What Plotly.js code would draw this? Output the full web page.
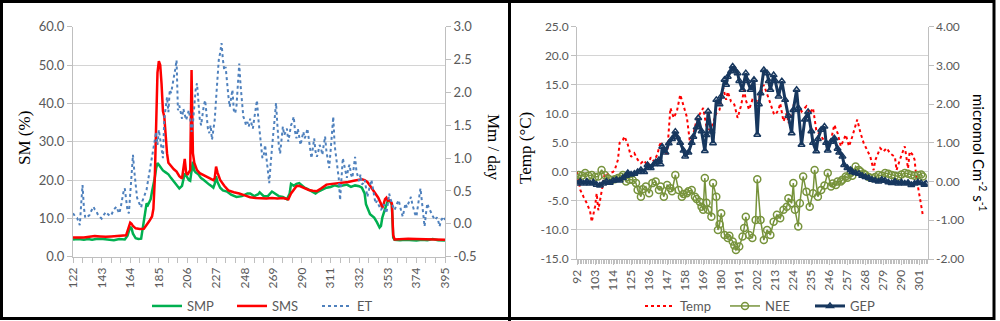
<!DOCTYPE html>
<html><head><meta charset="utf-8">
<script src="https://cdn.plot.ly/plotly-3.0.1.min.js"></script>
<style>html,body{margin:0;padding:0;background:#fff;width:1000px;height:321px;overflow:hidden;} #chart{width:1000px;height:321px;overflow:hidden;position:relative;}</style>
</head><body><div id="chart"></div>
<script>
// ---------- Left chart data (day of year, values) ----------
const smpPoints = [[122,4.5],[126,4.6],[130,4.4],[133,4.6],[136,4.4],[140,4.7],[144,4.6],[148,4.5],[152,4.3],[156,4.6],[160,4.5],[162,5.5],[163,7.0],[164,7.8],[165,7.4],[166,6.0],[168,4.8],[170,4.6],[172,4.7],[173,7.0],[174,10.0],[175,12.5],[176,13.9],[177,13.5],[178,14.5],[179,15.0],[180,17.0],[181,18.5],[182,20.5],[183,23.0],[184,24.4],[185,24.0],[186,23.5],[187,22.8],[188,22.5],[190,22.0],[192,21.5],[194,20.5],[196,19.5],[198,18.5],[200,17.8],[202,18.5],[204,21.7],[205,21.2],[206,20.5],[207,20.0],[208,19.8],[209,22.0],[210,24.8],[211,22.5],[212,22.0],[214,21.5],[216,20.5],[218,20.0],[220,19.3],[222,18.8],[224,18.3],[225,18.0],[226,19.0],[227,21.0],[228,19.5],[230,18.0],[232,17.3],[235,17.0],[238,16.2],[242,15.6],[246,15.8],[250,16.5],[252,16.5],[255,15.8],[258,16.3],[259,16.8],[262,15.8],[265,15.8],[268,17.0],[270,16.5],[273,15.8],[276,15.6],[279,15.0],[281,16.5],[282,19.0],[284,18.5],[286,19.0],[288,19.2],[290,18.5],[292,18.0],[294,17.7],[297,17.0],[300,16.5],[302,17.0],[305,17.5],[308,18.0],[311,18.2],[314,18.6],[317,18.3],[320,18.5],[323,18.8],[326,18.2],[329,18.6],[332,18.4],[334,18.0],[336,16.5],[337,13.7],[340,11.1],[343,10.2],[345,9.0],[347,7.6],[348,8.0],[349,10.2],[351,12.5],[352,13.7],[353,14.5],[354,14.6],[355,14.3],[356,13.5],[357,5.0],[358,4.4],[362,4.3],[366,4.4],[370,4.3],[374,4.2],[378,4.4],[382,4.3],[386,4.6],[390,4.3],[395,4.2]];
const smsPoints = [[122,5.0],[126,5.0],[130,5.0],[134,5.2],[138,5.4],[142,5.3],[146,5.2],[150,5.3],[154,5.4],[158,5.4],[161,5.6],[163,7.8],[164,8.9],[165,8.6],[166,8.0],[168,7.4],[171,7.2],[174,7.3],[176,8.2],[178,9.3],[180,10.5],[181,12.5],[182,20],[183,37],[184,48],[185,51],[186,50],[187,45],[188,38],[189,36.5],[190,31],[191,27],[192,24.5],[194,23.5],[196,22.8],[198,22.2],[200,21.0],[202,20.4],[203,23.5],[204,25.5],[205,22.0],[206,21.3],[207,22.0],[208,22.6],[209,48.7],[210,27.0],[211,24.5],[213,22.6],[215,21.8],[218,21.3],[220,20.9],[222,20.5],[225,20.0],[226,20.5],[227,23.5],[228,22.0],[230,20.0],[233,18.5],[236,17.3],[240,16.8],[244,16.5],[248,16.0],[252,15.5],[256,15.3],[260,15.2],[264,15.2],[268,15.3],[272,15.2],[276,15.3],[280,15.0],[282,16.5],[284,17.5],[286,18.4],[288,18.5],[290,18.2],[292,17.8],[295,17.4],[298,17.2],[301,17.1],[304,17.8],[308,18.8],[312,19.0],[316,19.1],[320,19.3],[324,19.5],[328,19.8],[332,20.0],[334,20.2],[336,20.0],[338,19.5],[340,18.5],[342,17.4],[344,16.4],[346,15.4],[348,13.8],[349,12.7],[350,13.8],[351,15.0],[352,15.4],[353,14.6],[354,14.8],[355,14.5],[356,13.9],[357,5.6],[358,4.5],[362,4.6],[368,4.7],[374,4.6],[380,4.5],[386,4.5],[390,4.5],[395,4.4]];
const etFirstDay = 122;
const etValues = [
0.16,0.12,0.10,0.09,0.02,-0.02,0.30,0.59,0.25,0.09,
0.10,0.12,0.13,0.18,0.22,0.26,0.22,0.20,0.15,0.12,
0.10,0.08,0.12,0.15,0.18,0.16,0.14,0.12,0.13,0.18,
0.22,0.24,0.26,0.20,0.16,0.25,0.38,0.48,0.54,0.35,
0.20,0.16,0.50,0.85,1.05,0.80,0.55,0.40,0.34,0.30,
0.25,0.35,0.42,0.48,0.52,0.65,0.77,0.85,0.97,1.10,
1.27,1.40,1.20,1.43,1.30,1.10,1.00,1.60,1.80,1.93,
1.70,2.04,1.99,2.10,2.19,2.35,2.49,1.73,1.80,1.70,
1.60,1.75,1.65,1.58,1.65,1.73,1.60,1.40,1.53,1.80,
2.04,2.14,1.80,1.60,1.50,1.70,1.80,1.88,1.60,1.45,
1.38,1.50,1.28,1.45,1.58,1.90,2.20,2.50,2.60,2.75,
2.50,2.34,2.39,2.14,1.95,1.78,1.90,2.04,1.73,1.68,
1.80,2.20,2.44,2.10,1.90,1.63,1.58,1.50,1.55,1.48,
1.60,1.50,1.45,1.60,1.75,1.88,1.60,1.40,1.12,1.00,
1.05,1.20,1.00,0.80,0.62,0.90,1.20,1.38,1.60,1.84,
1.50,1.20,1.07,1.30,1.48,1.35,1.40,1.45,1.25,1.40,
1.50,1.55,1.63,1.40,1.30,1.45,1.35,1.20,1.30,1.40,
1.30,1.35,1.45,1.30,1.10,1.00,1.15,1.30,1.10,1.02,
1.10,1.20,1.15,1.05,1.20,1.33,1.10,0.95,0.85,1.10,
1.40,1.63,1.20,1.00,0.80,0.70,0.36,0.80,1.00,0.90,
0.80,0.70,0.85,0.90,0.75,0.70,0.85,1.02,0.80,0.70,
0.65,0.75,0.60,0.62,0.67,0.55,0.41,0.50,0.60,0.67,
0.55,0.40,0.31,0.35,0.30,0.25,0.21,0.25,0.30,0.22,
0.16,0.30,0.46,0.38,0.30,0.25,0.21,0.28,0.32,0.36,
0.25,0.18,0.11,0.20,0.31,0.25,0.30,0.36,0.41,0.30,
0.20,0.15,0.11,0.25,0.40,0.54,0.35,0.15,-0.04,0.15,
0.31,0.25,0.20,0.16,0.12,0.08,0.06,0.10,0.05,-0.04,
0.05,0.08,0.11,0.06];
const leftTickLabels = ['122','143','164','185','206','227','248','269','290','311','332','353','374','395'];
const smTicks = ['0.0','10.0','20.0','30.0','40.0','50.0','60.0'];
const etTicks = ['-0.5','0.0','0.5','1.0','1.5','2.0','2.5','3.0'];

// ---------- Right chart data ----------
const tempPoints = [[92,0.0],[93,-1.5],[94,-3.1],[96,-4.3],[98,-5.4],[100,-6.8],[101,-8.6],[103,-6.0],[104,-3.7],[105,-6.6],[107,-3.4],[108,-2.0],[109,-0.2],[111,-0.5],[112,-0.2],[114,0.0],[115,0.3],[117,2.1],[118,5.0],[120,5.5],[121,6.1],[123,4.7],[125,2.6],[127,3.2],[129,2.1],[131,1.5],[133,2.0],[135,1.0],[137,2.5],[139,1.8],[141,3.0],[143,5.2],[145,3.2],[147,3.2],[148,7.0],[149,11.0],[151,9.3],[153,10.5],[155,13.3],[157,11.3],[159,9.5],[161,4.9],[163,6.5],[165,9.0],[167,9.9],[169,11.0],[171,7.8],[173,7.2],[175,8.4],[177,10.1],[179,10.7],[181,14.7],[183,12.4],[184,13.8],[186,12.1],[188,11.6],[190,9.3],[192,11.3],[194,14.1],[195,12.4],[197,10.7],[199,12.4],[201,12.0],[203,12.7],[206,15.0],[207,14.1],[210,11.8],[212,10.1],[213,9.8],[215,10.7],[216,11.8],[218,8.7],[220,10.1],[221,8.4],[223,10.1],[225,12.4],[227,11.3],[229,10.4],[232,11.3],[234,10.1],[236,11.0],[238,7.2],[241,6.1],[244,4.9],[247,5.5],[249,8.1],[251,6.7],[253,4.4],[256,6.4],[258,4.4],[260,6.1],[263,9.0],[265,6.7],[267,4.9],[269,3.8],[271,2.6],[273,0.3],[274,2.0],[277,4.1],[279,3.5],[281,4.1],[283,3.2],[286,2.6],[287,0.3],[289,2.1],[292,4.4],[294,0.6],[295,3.5],[297,2.9],[298,2.1],[299,-0.8],[301,-4.3],[303,-7.4]];
const neePoints = [[92,0.10],[93,0.17],[95,0.15],[97,0.22],[99,0.15],[101,0.17],[103,0.12],[105,0.13],[107,0.30],[109,0.17],[111,0.08],[113,0.04],[115,0.06],[117,0.09],[119,0.12],[120,0.17],[122,0.0],[124,0.05],[126,0.04],[128,-0.04],[129,-0.22],[131,-0.39],[132,-0.20],[134,-0.13],[136,-0.30],[138,-0.04],[140,0.0],[142,-0.22],[143,-0.13],[145,-0.39],[147,-0.09],[149,-0.17],[150,-0.25],[152,0.17],[154,-0.22],[156,-0.39],[157,-0.32],[159,-0.30],[160,-0.25],[162,-0.22],[164,-0.39],[165,-0.45],[167,-0.53],[168,-0.65],[169,-0.73],[170,0.09],[171,-0.55],[172,-0.73],[174,-0.91],[175,-0.04],[177,-0.39],[178,-1.25],[179,-1.10],[180,-0.82],[182,-1.38],[184,-1.46],[185,-1.40],[187,-1.55],[188,-1.65],[189,-1.77],[191,-1.68],[193,-1.42],[194,-1.20],[195,-0.91],[197,-1.38],[199,-1.46],[201,-0.99],[202,0.06],[204,-0.99],[206,-1.51],[208,-1.25],[210,-1.38],[212,-1.04],[214,-0.86],[216,-0.95],[218,-0.73],[220,-0.65],[221,-0.43],[223,-0.56],[224,-0.04],[225,-0.73],[227,-1.16],[228,-0.56],[230,0.13],[232,-0.26],[234,-0.65],[236,-0.30],[237,0.30],[239,-0.39],[241,-0.22],[243,-0.10],[245,0.22],[247,-0.13],[248,-0.05],[250,-0.09],[251,0.0],[253,0.0],[254,0.05],[256,0.13],[257,0.10],[259,0.22],[260,0.15],[262,0.39],[264,0.30],[265,0.26],[267,0.20],[268,0.17],[270,0.12],[272,0.09],[274,0.12],[276,0.17],[278,0.15],[280,0.22],[282,0.20],[284,0.17],[286,0.15],[288,0.13],[290,0.18],[292,0.22],[294,0.20],[296,0.17],[298,0.15],[300,0.17],[302,0.18],[303,0.13]];
const gepPoints = [[92,-0.05],[94,0.0],[96,-0.05],[98,0.0],[100,-0.05],[102,-0.02],[104,-0.08],[106,-0.10],[108,-0.05],[110,0.0],[112,-0.03],[114,0.02],[116,0.05],[118,0.03],[120,0.09],[122,0.15],[123,0.22],[125,0.18],[127,0.20],[129,0.25],[131,0.30],[133,0.25],[135,0.43],[137,0.35],[139,0.45],[140,0.50],[142,0.56],[143,0.45],[144,0.90],[146,0.75],[148,0.99],[150,1.10],[152,1.29],[153,1.15],[155,1.00],[157,0.80],[158,0.65],[160,0.75],[162,1.00],[163,1.16],[165,1.40],[166,1.64],[168,1.30],[170,0.79],[171,1.20],[172,1.81],[174,1.29],[175,0.99],[177,2.11],[179,2.00],[180,2.20],[182,2.63],[183,2.50],[184,2.71],[186,2.85],[187,2.97],[188,2.90],[190,2.80],[191,2.60],[193,2.37],[195,2.80],[196,2.60],[198,2.37],[200,2.63],[202,1.21],[203,2.00],[204,2.28],[206,2.88],[208,2.80],[209,2.60],[210,2.37],[212,2.75],[213,2.60],[215,2.20],[217,2.59],[219,2.11],[221,1.70],[223,1.25],[224,1.85],[226,2.37],[227,1.90],[229,0.95],[231,1.60],[233,1.80],[235,1.30],[236,1.00],[238,0.78],[239,1.10],[241,1.34],[243,1.42],[244,1.00],[245,0.80],[247,1.03],[249,1.12],[251,0.85],[252,0.75],[254,0.65],[255,0.43],[257,0.35],[259,0.30],[260,0.25],[262,0.22],[264,0.20],[266,0.15],[268,0.12],[270,0.09],[272,0.05],[274,0.03],[276,0.0],[278,0.05],[280,0.02],[282,-0.02],[284,-0.04],[286,0.0],[288,-0.05],[290,-0.02],[292,-0.05],[294,-0.03],[296,-0.09],[298,-0.05],[300,-0.02],[302,-0.04],[304,-0.08],[305,-0.05]];
const rightTickLabels = ['92','103','114','125','136','147','158','169','180','191','202','213','224','235','246','257','268','279','290','301'];
const tempTicks = ['-15.0','-10.0','-5.0','0.0','5.0','10.0','15.0','20.0','25.0'];
const fluxTicks = ['-2.00','-1.00','0.00','1.00','2.00','3.00','4.00'];

// ---------- helpers ----------
const W = 1000, H = 321;
const fx = v => v / W, fy = v => 1 - v / H;
const xs = p => p.map(d => d[0]), ys = p => p.map(d => d[1]);
const etDays = etValues.map((_, i) => etFirstDay + i);
const num = arr => arr.map(s => parseFloat(s));
function seq(a, b, s){ const r=[]; for(let v=a; v<=b+1e-9; v+=s) r.push(v); return r; }

const tickFont = {family:'Lato, Open Sans, sans-serif', size:12, color:'#595959'};
const yFontL = {family:'Lato, Open Sans, sans-serif', size:13, color:'#595959'};
const legFont = {family:'Lato, Open Sans, sans-serif', size:13, color:'#595959'};
const axisCol = '#bfbfbf', gridCol = '#d4d4d4';

const traces = [
  {x: xs(smpPoints), y: ys(smpPoints), name:'SMP', type:'scatter', mode:'lines', xaxis:'x', yaxis:'y',
   line:{color:'#00B050', width:2.5}, legend:'legend'},
  {x: xs(smsPoints), y: ys(smsPoints), name:'SMS', type:'scatter', mode:'lines', xaxis:'x', yaxis:'y',
   line:{color:'#FF0000', width:2.5}, legend:'legend'},
  {x: etDays, y: etValues, name:'ET', type:'scatter', mode:'lines', xaxis:'x', yaxis:'y2',
   line:{color:'#4F81BD', width:2, dash:'dot'}, legend:'legend'},
  {x: xs(tempPoints), y: ys(tempPoints), name:'Temp', type:'scatter', mode:'lines', xaxis:'x2', yaxis:'y3',
   line:{color:'#FF0000', width:2, dash:'dot'}, legend:'legend2'},
  {x: xs(neePoints), y: ys(neePoints), name:'NEE', type:'scatter', mode:'lines+markers', xaxis:'x2', yaxis:'y4',
   line:{color:'#77933C', width:1.5}, marker:{symbol:'circle-open', size:7, color:'#77933C', line:{width:1.5}}, legend:'legend2'},
  {x: xs(gepPoints), y: ys(gepPoints), name:'GEP', type:'scatter', mode:'lines+markers', xaxis:'x2', yaxis:'y4',
   line:{color:'#17375E', width:3}, marker:{symbol:'triangle-up-open', size:6, color:'#17375E', line:{width:1.5}}, legend:'legend2'}
];

const layout = {
  width: W, height: H, margin:{l:0,r:0,t:0,b:0,autoexpand:false}, paper_bgcolor:'#fff', plot_bgcolor:'rgba(0,0,0,0)',
  showlegend: true,
  xaxis: {domain:[fx(73), fx(445)], anchor:'y', range:[122,395], tickmode:'array', tickvals:num(leftTickLabels), ticktext:leftTickLabels,
    tickangle:-90, tickfont:tickFont, ticks:'outside', ticklen:5, tickcolor:axisCol, showline:true, linecolor:axisCol, linewidth:1,
    showgrid:false, zeroline:false, minor:{tickmode:'array', tickvals:seq(122,395,7), ticks:'outside', ticklen:5, tickcolor:axisCol, showgrid:false}},
  yaxis: {domain:[fy(256.7), fy(26.7)], anchor:'x', range:[0,60], tickmode:'array', tickvals:num(smTicks), ticktext:smTicks,
    tickfont:yFontL, ticks:'outside', ticklen:5, tickcolor:axisCol, showline:true, linecolor:axisCol, showgrid:true, gridcolor:gridCol, gridwidth:1, zeroline:false},
  yaxis2: {overlaying:'y', side:'right', anchor:'x', range:[-0.5,3], tickmode:'array', tickvals:num(etTicks), ticktext:etTicks,
    tickfont:yFontL, ticks:'outside', ticklen:5, tickcolor:axisCol, showline:true, linecolor:axisCol, showgrid:false, zeroline:false},
  xaxis2: {domain:[fx(577), fx(927.7)], anchor:'y3', range:[92,306], tickmode:'array', tickvals:num(rightTickLabels), ticktext:rightTickLabels,
    tickangle:-90, tickfont:tickFont, ticks:'outside', ticklen:5, tickcolor:axisCol, showline:true, linecolor:axisCol,
    showgrid:false, zeroline:false, minor:{tickmode:'array', tickvals:seq(92,306,1), ticks:'outside', ticklen:4, tickcolor:axisCol, showgrid:false}},
  yaxis3: {domain:[fy(259), fy(26.7)], anchor:'x2', range:[-15,25], tickmode:'array', tickvals:num(tempTicks), ticktext:tempTicks,
    tickfont:tickFont, ticks:'outside', ticklen:5, tickcolor:axisCol, showline:true, linecolor:axisCol, showgrid:true, gridcolor:gridCol, gridwidth:1, zeroline:false},
  yaxis4: {overlaying:'y3', side:'right', anchor:'x2', range:[-2,4], tickmode:'array', tickvals:num(fluxTicks), ticktext:fluxTicks,
    tickfont:tickFont, ticks:'outside', ticklen:5, tickcolor:axisCol, showline:true, linecolor:axisCol, showgrid:false, zeroline:false},
  legend: {orientation:'h', x:fx(147), xanchor:'left', y:0, yanchor:'bottom', entrywidth:40, font:legFont, bgcolor:'rgba(0,0,0,0)'},
  legend2: {orientation:'h', x:fx(640), xanchor:'left', y:0, yanchor:'bottom', entrywidth:40, font:legFont, bgcolor:'rgba(0,0,0,0)'},
  annotations: [
    {text:'SM (%)', xref:'paper', yref:'paper', x:fx(24), y:fy(138), xanchor:'center', yanchor:'middle', textangle:-90, showarrow:false, font:{family:'Liberation Serif, serif', size:17, color:'#000'}},
    {text:'Mm / day', xref:'paper', yref:'paper', x:fx(493), y:fy(147), xanchor:'center', yanchor:'middle', textangle:90, showarrow:false, font:{family:'Liberation Serif, serif', size:17, color:'#000'}},
    {text:'Temp (°C)', xref:'paper', yref:'paper', x:fx(525), y:fy(148), xanchor:'center', yanchor:'middle', textangle:-90, showarrow:false, font:{family:'Liberation Serif, serif', size:17, color:'#000'}},
    {text:'micromol Cm<sup>-2</sup> s<sup>-1</sup>', xref:'paper', yref:'paper', x:fx(979), y:fy(153), xanchor:'center', yanchor:'middle', textangle:90, showarrow:false, font:{family:'Lato, Open Sans, sans-serif', size:15, color:'#000'}}
  ],
  shapes: [
    {type:'rect', xref:'paper', yref:'paper', x0:fx(1.5), x1:fx(994), y0:fy(318.5), y1:fy(1.5), line:{color:'#000', width:3}},
    {type:'line', xref:'paper', yref:'paper', x0:fx(509.5), x1:fx(509.5), y0:0, y1:1, line:{color:'#000', width:3}}
  ]
};

Plotly.newPlot('chart', traces, layout, {staticPlot:true, displayModeBar:false});
</script>
</body></html>
